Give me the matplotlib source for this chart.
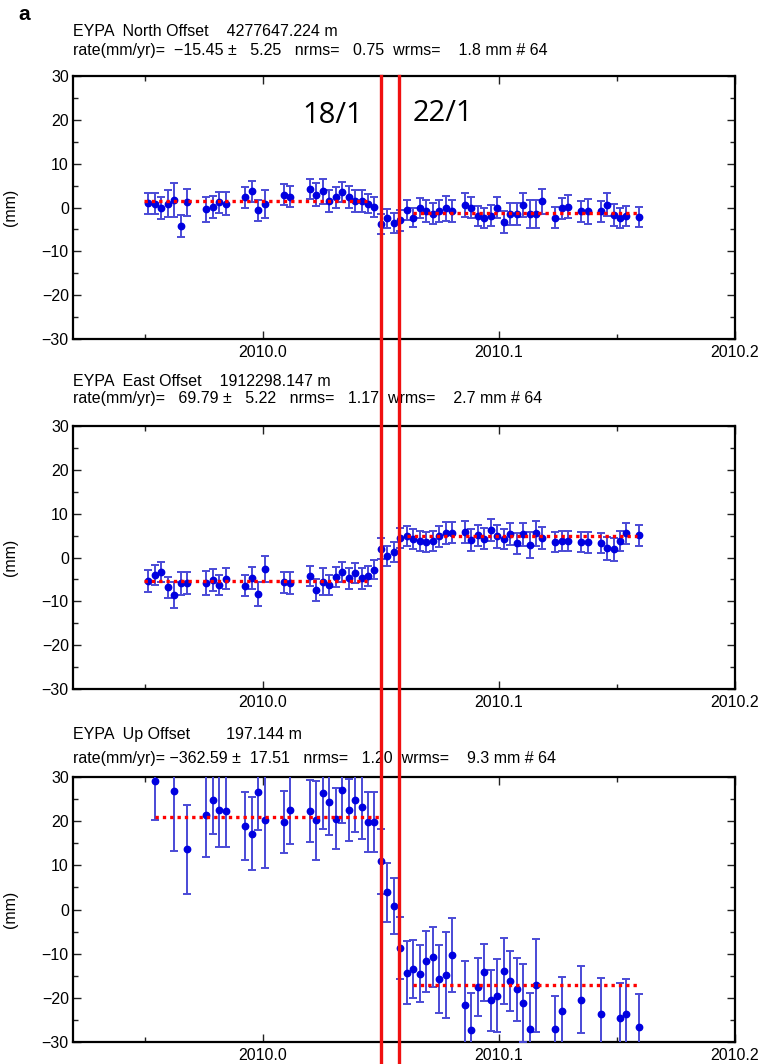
import numpy as np
import matplotlib.pyplot as plt
import matplotlib.transforms as mtransforms
from matplotlib.lines import Line2D

plt.rcParams['font.family'] = ['Liberation Sans', 'DejaVu Sans']

station = 'EYPA'
t0 = 2009.9514  # decimal year of first epoch

days = [0, 1, 2, 3, 4, 5, 6, 9, 10, 11, 12, 15, 16, 17, 18, 21, 22,
        25, 26, 27, 28, 29, 30, 31, 32, 33, 34, 35, 36, 37, 38, 39, 40, 41,
        42, 43, 44, 45, 46, 47, 49, 50, 51, 52, 53, 54, 55, 56, 57, 58, 59, 60, 61,
        63, 64, 65, 67, 68, 70, 71, 72, 73, 74, 76]

north = [1.0, 0.9, -0.2, 0.9, 1.8, -4.2, 1.2,
         -0.4, 0.2, 1.2, 0.9,
         2.3, 3.7, -0.6, 0.9,
         2.9, 2.5,
         4.2, 2.9, 3.7, 1.5, 2.3, 3.5, 2.3, 1.5, 1.5, 0.9, 0.2, -3.7, -2.5, -3.5, -2.9, -0.5, -2.3,
         -0.2, -0.8, -1.4, -0.8, -0.2, -0.8,
         0.6, 0.0, -1.9, -2.3, -1.9, 0.0, -3.3, -1.4, -1.4, 0.6, -1.4, -1.4, 1.4,
         -2.3, -0.2, 0.2,
         -0.9, -0.9,
         -0.9, 0.6, -1.7, -2.3, -1.9,
         -2.2]
north_err = [2.4, 2.4, 2.5, 3.1, 3.9, 2.6, 3.1,
             2.9, 2.5, 2.4, 2.6,
             2.3, 2.4, 2.4, 3.2,
             2.4, 2.4,
             2.3, 2.6, 2.9, 2.5, 2.3, 2.3, 2.5, 2.5, 2.5, 2.2, 2.3, 2.3, 2.2, 2.3, 2.4, 2.3, 2.2,
             2.3, 2.6, 2.4, 2.6, 2.8, 2.5,
             2.8, 2.4, 2.3, 2.3, 2.4, 2.3, 2.5, 2.5, 2.5, 2.8, 3.2, 3.2, 2.8,
             2.4, 2.4, 2.6,
             2.3, 2.8,
             2.3, 2.6, 2.5, 2.3, 2.3,
             2.3]

east = [-5.4, -4.0, -3.4, -6.8, -8.5, -5.9, -5.9,
        -5.8, -5.1, -6.3, -4.8,
        -6.4, -4.7, -8.3, -2.6,
        -5.7, -5.9,
        -4.2, -7.5, -5.5, -6.3, -4.5, -3.4, -4.7, -3.5, -4.7, -4.2, -2.8, 2.0, 0.4, 1.3, 4.4, 4.9, 4.2,
        3.8, 3.5, 3.8, 4.8, 5.5, 5.7,
        5.8, 4.0, 5.1, 4.3, 6.3, 4.8, 4.3, 5.3, 3.2, 5.3, 2.8, 5.5, 4.5,
        3.6, 3.8, 3.8,
        3.5, 3.5,
        3.4, 2.1, 1.9, 3.8, 5.5,
        5.1]
east_err = [2.5, 2.3, 2.3, 2.4, 3.0, 2.6, 2.5,
            2.8, 2.5, 2.3, 2.5,
            2.3, 2.5, 2.8, 3.0,
            2.4, 2.5,
            2.3, 2.5, 3.0, 2.3, 2.3, 2.3, 2.4, 2.3, 2.4, 2.2, 2.2, 2.4, 2.3, 2.3, 2.3, 2.3, 2.3,
            2.3, 2.3, 2.3, 2.4, 2.5, 2.4,
            2.6, 2.5, 2.4, 2.4, 2.5, 2.6, 2.3, 2.5, 2.4, 2.6, 3.0, 2.8, 2.5,
            2.3, 2.3, 2.3,
            2.3, 2.4,
            2.3, 2.6, 2.6, 2.3, 2.4,
            2.4]

nan = np.nan
# Up points that fall outside +-30 mm are not visible in the original
up = [nan, 29.2, nan, nan, 26.8, nan, 13.6,
      21.3, 24.7, 22.6, 22.3,
      18.9, 17.2, 26.6, 20.2,
      19.8, 22.6,
      22.3, 20.2, 26.4, 24.3, 20.5, 27.0, 22.5, 24.8, 23.2, 19.8, 19.8, 10.9, 3.9, 0.8, -8.7, -14.3, -13.4,
      -14.5, -11.7, -10.7, -15.7, -14.9, -10.3,
      -21.7, -27.3, -17.5, -14.2, -20.5, -19.5, -14.0, -16.1, -18.1, -21.1, -27.0, -17.2, nan,
      -27.0, -23.0, nan,
      -20.4, nan,
      -23.6, nan, nan, -24.5, -23.6,
      -26.6]
up_err = [nan, 9.0, nan, nan, 13.6, nan, 10.0,
          9.4, 7.7, 8.5, 8.2,
          7.7, 8.3, 8.6, 10.9,
          7.1, 7.8,
          7.1, 8.9, 8.2, 7.5, 6.9, 7.5, 7.1, 7.3, 7.3, 6.7, 6.7, 7.4, 6.7, 6.4, 7.1, 7.2, 6.6,
          6.5, 6.9, 6.8, 7.7, 9.7, 8.3,
          10.0, 8.3, 6.6, 6.5, 6.9, 8.3, 7.5, 6.8, 7.2, 8.8, 8.0, 10.5, nan,
          7.5, 7.7, nan,
          7.5, nan,
          8.0, nan, nan, 7.8, 7.8,
          7.5]

components = ['North', 'East', 'Up']
offsets = [4277647.224, 1912298.147, 197.144]
rates = [-15.45, 69.79, -362.59]
rate_sig = [5.25, 5.22, 17.51]
nrms = [0.75, 1.17, 1.20]
wrms = [1.8, 2.7, 9.3]
n_obs = 64

# model (offset fit) segments: (start day, end day, level mm)
fit_segments = [[(-0.6, 33.8, 1.4), (41.0, 75.7, -1.3)],
                [(-0.6, 33.8, -5.4), (40.0, 75.7, 4.9)],
                [(1.0, 35.7, 21.0), (41.0, 75.7, -17.2)]]

event_times = [2010.0498, 2010.0577]
event_labels = ['18/1', '22/1']

series = [(north, north_err), (east, east_err), (up, up_err)]

W, H = 773, 1064
fig = plt.figure(figsize=(W / 100, H / 100), dpi=100)

ax_top = [76, 426, 777]
ax_bot = [339, 689, 1042]
title_y = [(32, 50), (382, 398), (735, 758)]
left, right = 73, 735
fs = 11.5

t = t0 + np.array(days) / 365.25

axes = []
for i in range(3):
    ax = fig.add_axes([left / W, 1 - ax_bot[i] / H, (right - left) / W, (ax_bot[i] - ax_top[i]) / H])
    axes.append(ax)
    y, e = series[i]
    ax.errorbar(t, y, yerr=e, fmt='o', color='#0000e0', ms=4.6, ecolor='#4a4ad6',
                elinewidth=1.4, capsize=2.6, capthick=1.4, zorder=3)
    for (d0, d1, lev) in fit_segments[i]:
        ax.plot([t0 + d0 / 365.25, t0 + d1 / 365.25], [lev, lev], color='red', ls=(0, (1, 1.2)),
                lw=2.4, zorder=4)
    ax.set_xlim(2009.9195, 2010.2)
    ax.set_ylim(-30, 30)
    ax.set_xticks([2010.0, 2010.1, 2010.2])
    ax.set_xticklabels(['2010.0', '2010.1', '2010.2'])
    ax.set_xticks([2009.95, 2010.05, 2010.15], minor=True)
    ax.set_yticks(range(-30, 31, 10))
    ax.set_yticks(range(-25, 30, 10), minor=True)
    ax.tick_params(which='both', direction='in', top=True, right=True, labelsize=fs,
                   width=1.0, color='#222222')
    ax.tick_params(which='major', length=6)
    ax.tick_params(axis='x', which='major', pad=4)
    ax.tick_params(axis='y', which='major', pad=3)
    ax.tick_params(which='minor', length=3.5)
    for sp in ax.spines.values():
        sp.set_linewidth(1.6)
    ax.set_ylabel('(mm)', fontsize=fs)
    ax.yaxis.set_label_coords(-0.083, 0.5)

    line1 = '%s  %s Offset %14.3f m' % (station, components[i], offsets[i])
    line2 = ('rate(mm/yr)= %7.2f \u00b1 %6.2f   nrms= %6.2f  wrms= %6.1f mm # %d'
             % (rates[i], rate_sig[i], nrms[i], wrms[i], n_obs)).replace('-', '\u2212')
    fig.text(left / W, 1 - title_y[i][0] / H, line1, fontsize=fs, va='center', ha='left')
    fig.text(left / W, 1 - title_y[i][1] / H, line2, fontsize=fs, va='center', ha='left')

fig.text(18 / W, 1 - 15 / H, 'a', fontsize=15, fontweight='bold', va='center', ha='left')

# event lines across all panels
trans = mtransforms.blended_transform_factory(axes[0].transData, fig.transFigure)
for te in event_times:
    fig.add_artist(Line2D([te, te], [0, 1 - ax_top[0] / H], transform=trans, color='#f01010', lw=2.4, zorder=10))

axes[0].text(event_times[0] - 0.0205, 21.0, event_labels[0], fontsize=21, family=['Open Sans', 'DejaVu Sans'],
             ha='center', va='center')
axes[0].text(event_times[1] + 0.0185, 21.5, event_labels[1], fontsize=21, family=['Open Sans', 'DejaVu Sans'],
             ha='center', va='center')

plt.savefig('out.png', dpi=100)
